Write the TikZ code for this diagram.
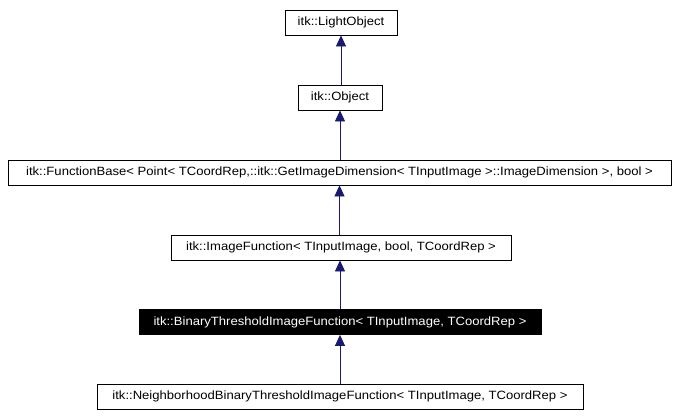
\documentclass[tikz,border=0pt]{standalone}
\usepackage{fontspec}
\setmainfont{Liberation Sans}
\newfontfamily\boxfont[FakeStretch=1.09]{Liberation Sans}
\usetikzlibrary{arrows.meta, positioning}
\definecolor{edgeblue}{RGB}{25,25,112}

\tikzset{
    classbox/.style={draw, line width=0.8pt, minimum height=25, inner sep=0pt, font=\boxfont\fontsize{12}{14}\selectfont},
    curbox/.style={classbox, fill=black, text=white},
    inherit/.style={draw=edgeblue, line width=0.8pt, -{Triangle[length=11pt,width=10pt,fill=edgeblue]}}
}

\begin{document}
\begin{tikzpicture}[x=1pt, y=-1pt]
    \useasboundingbox (0,0) rectangle (679,415);

    \node[classbox, minimum width=112] (lightobj) at (341,22.5) {itk::LightObject};
    \node[classbox, minimum width=84] (object) at (340,97.5) {itk::Object};
    \node[classbox, minimum width=663] (funcbase) at (339.5,172.5) {itk::FunctionBase< Point< TCoordRep,::itk::GetImageDimension< TInputImage >::ImageDimension >, bool >};
    \node[classbox, minimum width=340] (imgfunc) at (341,247.5) {itk::ImageFunction< TInputImage, bool, TCoordRep >};
    \node[curbox, minimum width=402] (binthresh) at (340,322) {itk::BinaryThresholdImageFunction< TInputImage, TCoordRep >};
    \node[classbox, minimum width=486] (nbhthresh) at (340,396.5) {itk::NeighborhoodBinaryThresholdImageFunction< TInputImage, TCoordRep >};

    % inheritance arrows, child to parent
    \draw[inherit] (object.north -| lightobj.south) -- (lightobj.south);
    \draw[inherit] (funcbase.north -| object.south) -- (object.south);
    \draw[inherit] (imgfunc.north -| funcbase.south) -- (funcbase.south);
    \draw[inherit] (binthresh.north) -- (binthresh.north |- imgfunc.south);
    \draw[inherit] (nbhthresh.north) -- (binthresh.south);
\end{tikzpicture}
\end{document}
